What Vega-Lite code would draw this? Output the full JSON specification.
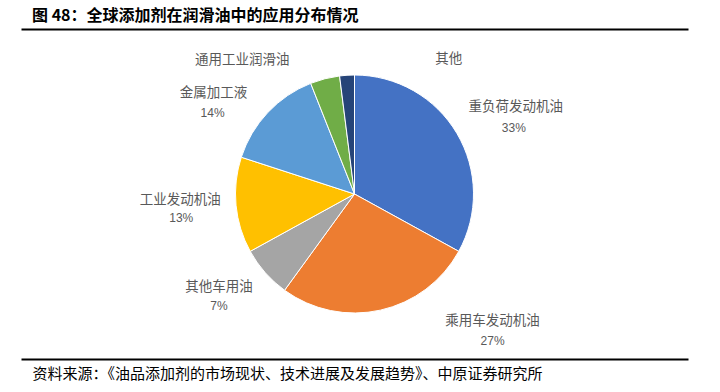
{
  "$schema": "https://vega.github.io/schema/vega-lite/v6.json",
  "width": 667,
  "height": 330,
  "autosize": {"type": "none"},
  "padding": {"left": 21, "right": 32, "top": 29, "bottom": 33},
  "background": "white",
  "config": {"view": {"stroke": null}, "font": "Noto Sans CJK SC"},
  "title": {
    "text": "图 48：全球添加剂在润滑油中的应用分布情况",
    "anchor": "start",
    "frame": "group",
    "dx": 11,
    "offset": -46,
    "fontSize": 16,
    "fontWeight": "bold",
    "color": "#000000",
    "font": "Noto Sans CJK SC"
  },
  "data": {
    "values": [
      {"name": "重负荷发动机油", "share": 0.33, "i": 1},
      {"name": "乘用车发动机油", "share": 0.27, "i": 2},
      {"name": "其他车用油", "share": 0.07, "i": 3},
      {"name": "工业发动机油", "share": 0.13, "i": 4},
      {"name": "金属加工液", "share": 0.14, "i": 5},
      {"name": "通用工业润滑油", "share": 0.04, "i": 6},
      {"name": "其他", "share": 0.02, "i": 7}
    ]
  },
  "resolve": {"scale": {"x": "independent"}, "axis": {"x": "independent"}},
  "layer": [
    {
      "mark": {"type": "rule", "opacity": 0},
      "encoding": {
        "x": {
          "field": "share",
          "type": "quantitative",
          "axis": {"orient": "top", "domain": true, "domainColor": "#000000", "domainWidth": 2, "ticks": false, "labels": false, "grid": false, "title": null, "minExtent": 0, "maxExtent": 0, "offset": 0}
        }
      }
    },
    {
      "mark": {"type": "rule", "opacity": 0},
      "encoding": {
        "x": {
          "field": "share",
          "type": "quantitative",
          "axis": {
            "orient": "bottom", "domain": true, "domainColor": "#000000", "domainWidth": 2,
            "ticks": false, "labels": false, "grid": false,
            "title": "资料来源：《油品添加剂的市场现状、技术进展及发展趋势》、中原证券研究所",
            "titleFont": "Noto Sans CJK SC", "titleFontSize": 15, "titleFontWeight": "normal",
            "titleColor": "#000000", "titleAnchor": "start", "titleAlign": "left",
            "titleX": 11, "titleY": 14, "titleBaseline": "middle"
          }
        }
      }
    },
    {
      "encoding": {
        "theta": {"field": "share", "type": "quantitative", "stack": true},
        "order": {"field": "i", "type": "quantitative"}
      },
      "layer": [
        {
          "mark": {"type": "arc", "outerRadius": 119, "stroke": "#ffffff", "strokeWidth": 1},
          "encoding": {
            "color": {
              "field": "name", "type": "nominal", "legend": null,
              "scale": {
                "domain": ["重负荷发动机油", "乘用车发动机油", "其他车用油", "工业发动机油", "金属加工液", "通用工业润滑油", "其他"],
                "range": ["#4472C4", "#ED7D31", "#A5A5A5", "#FFC000", "#5B9BD5", "#70AD47", "#264478"]
              }
            }
          }
        },
        {
          "mark": {"type": "text", "radius": 170, "dx": 15, "dy": 0, "fontSize": 13.5, "color": "#595959", "font": "Noto Sans CJK SC"},
          "encoding": {"text": {"condition": {"test": "datum.name === '重负荷发动机油'", "field": "name", "type": "nominal"}, "value": ""}}
        },
        {
          "mark": {"type": "text", "radius": 170, "dx": 13, "dy": 21, "fontSize": 12, "color": "#595959", "font": "Liberation Sans"},
          "encoding": {"text": {"condition": {"test": "datum.name === '重负荷发动机油'", "field": "share", "type": "quantitative", "format": ".0%"}, "value": ""}}
        },
        {
          "mark": {"type": "text", "radius": 170, "dx": 101, "dy": -39, "fontSize": 13.5, "color": "#595959", "font": "Noto Sans CJK SC"},
          "encoding": {"text": {"condition": {"test": "datum.name === '乘用车发动机油'", "field": "name", "type": "nominal"}, "value": ""}}
        },
        {
          "mark": {"type": "text", "radius": 170, "dx": 101, "dy": -19, "fontSize": 12, "color": "#595959", "font": "Liberation Sans"},
          "encoding": {"text": {"condition": {"test": "datum.name === '乘用车发动机油'", "field": "share", "type": "quantitative", "format": ".0%"}, "value": ""}}
        },
        {
          "mark": {"type": "text", "radius": 170, "dx": -8, "dy": -19, "fontSize": 13.5, "color": "#595959", "font": "Noto Sans CJK SC"},
          "encoding": {"text": {"condition": {"test": "datum.name === '其他车用油'", "field": "name", "type": "nominal"}, "value": ""}}
        },
        {
          "mark": {"type": "text", "radius": 170, "dx": -8, "dy": 0, "fontSize": 12, "color": "#595959", "font": "Liberation Sans"},
          "encoding": {"text": {"condition": {"test": "datum.name === '其他车用油'", "field": "share", "type": "quantitative", "format": ".0%"}, "value": ""}}
        },
        {
          "mark": {"type": "text", "radius": 170, "dx": -5, "dy": -10, "fontSize": 13.5, "color": "#595959", "font": "Noto Sans CJK SC"},
          "encoding": {"text": {"condition": {"test": "datum.name === '工业发动机油'", "field": "name", "type": "nominal"}, "value": ""}}
        },
        {
          "mark": {"type": "text", "radius": 170, "dx": -4, "dy": 8, "fontSize": 12, "color": "#595959", "font": "Liberation Sans"},
          "encoding": {"text": {"condition": {"test": "datum.name === '工业发动机油'", "field": "share", "type": "quantitative", "format": ".0%"}, "value": ""}}
        },
        {
          "mark": {"type": "text", "radius": 170, "dx": -17, "dy": 15, "fontSize": 13.5, "color": "#595959", "font": "Noto Sans CJK SC"},
          "encoding": {"text": {"condition": {"test": "datum.name === '金属加工液'", "field": "name", "type": "nominal"}, "value": ""}}
        },
        {
          "mark": {"type": "text", "radius": 170, "dx": -18, "dy": 35, "fontSize": 12, "color": "#595959", "font": "Liberation Sans"},
          "encoding": {"text": {"condition": {"test": "datum.name === '金属加工液'", "field": "share", "type": "quantitative", "format": ".0%"}, "value": ""}}
        },
        {
          "mark": {"type": "text", "radius": 170, "dx": -70, "dy": 31, "fontSize": 13.5, "color": "#595959", "font": "Noto Sans CJK SC"},
          "encoding": {"text": {"condition": {"test": "datum.name === '通用工业润滑油'", "field": "name", "type": "nominal"}, "value": ""}}
        },
        {
          "mark": {"type": "text", "radius": 170, "dx": 105, "dy": 35, "fontSize": 13.5, "color": "#595959", "font": "Noto Sans CJK SC"},
          "encoding": {"text": {"condition": {"test": "datum.name === '其他'", "field": "name", "type": "nominal"}, "value": ""}}
        }
      ]
    }
  ]
}
